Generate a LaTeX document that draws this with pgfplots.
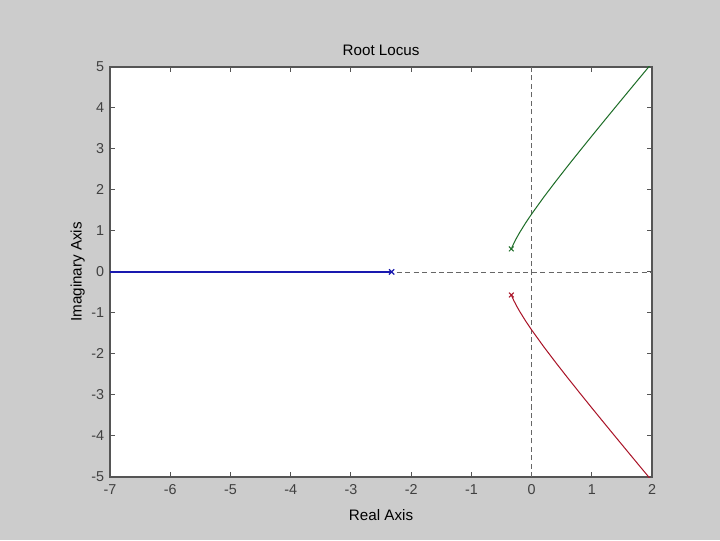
\documentclass[border=0pt]{standalone}
\usepackage{fontspec}
\setmainfont{Liberation Sans}
\usepackage{pgfplots}
\pgfplotsset{compat=1.18}
\definecolor{figbg}{HTML}{CCCCCC}
\definecolor{axcol}{HTML}{555555}
\definecolor{lblue}{RGB}{25,25,175}
\definecolor{lgreen}{RGB}{30,110,40}
\definecolor{lred}{RGB}{170,20,40}

\begin{document}
\begin{tikzpicture}[x=0.0208333cm,y=0.0208333cm]
% figure background (720x540 px)
\fill[figbg] (-110,-63) rectangle (610,477);
\begin{axis}[
  at={(0,0)}, anchor=south west,
  scale only axis,
  width=11.2917cm, height=8.5417cm,
  xmin=-7, xmax=2, ymin=-5, ymax=5,
  xtick={-7,...,2}, ytick={-5,...,5},
  tick align=inside,
  major tick length=0.1cm,
  axis line style={axcol, line width=0.8pt},
  tick style={axcol, line width=0.6pt},
  axis background/.style={fill=white},
  tick label style={font=\fontsize{8.5}{10}\selectfont, text=black!75},
  /pgf/number format/assume math mode=true,
  xticklabel style={yshift=-1pt},
  title={Root Locus},
  title style={font=\fontsize{9}{11}\selectfont, yshift=-3pt},
  xlabel={Real Axis}, ylabel={Imaginary Axis},
  label style={font=\fontsize{9}{11}\selectfont},
  xlabel style={yshift=-2pt},
  ylabel style={yshift=-3pt},
  clip=true,
]
% dashed axes
\addplot[black!60, dash pattern=on 3pt off 2pt, line width=0.5pt] coordinates {(-7,0)(2,0)};
\addplot[black!60, dash pattern=on 3pt off 2pt, line width=0.5pt] coordinates {(0,-5)(0,5)};
% real branch
\addplot[lblue, line width=0.7pt] coordinates {(-2.3247,0)(-7,0)};
% upper branch
\addplot[lgreen, line width=0.6pt] coordinates {
  (-0.3376,0.562)(-0.3,0.686)(-0.25,0.829)(-0.2,0.959)(-0.1,1.196)(0,1.414)
  (0.2,1.822)(0.4,2.209)(0.6,2.585)(0.8,2.953)(1.0,3.317)(1.2,3.677)
  (1.4,4.035)(1.6,4.391)(1.8,4.746)(2.0,5.099)};
% lower branch
\addplot[lred, line width=0.6pt] coordinates {
  (-0.3376,-0.562)(-0.3,-0.686)(-0.25,-0.829)(-0.2,-0.959)(-0.1,-1.196)(0,-1.414)
  (0.2,-1.822)(0.4,-2.209)(0.6,-2.585)(0.8,-2.953)(1.0,-3.317)(1.2,-3.677)
  (1.4,-4.035)(1.6,-4.391)(1.8,-4.746)(2.0,-5.099)};
% poles
\addplot[lblue, only marks, mark=x, mark size=2.2pt, line width=0.7pt] coordinates {(-2.3247,0)};
\addplot[lgreen, only marks, mark=x, mark size=2pt, line width=0.6pt] coordinates {(-0.3376,0.562)};
\addplot[lred, only marks, mark=x, mark size=2pt, line width=0.6pt] coordinates {(-0.3376,-0.562)};
\end{axis}
\end{tikzpicture}
\end{document}
